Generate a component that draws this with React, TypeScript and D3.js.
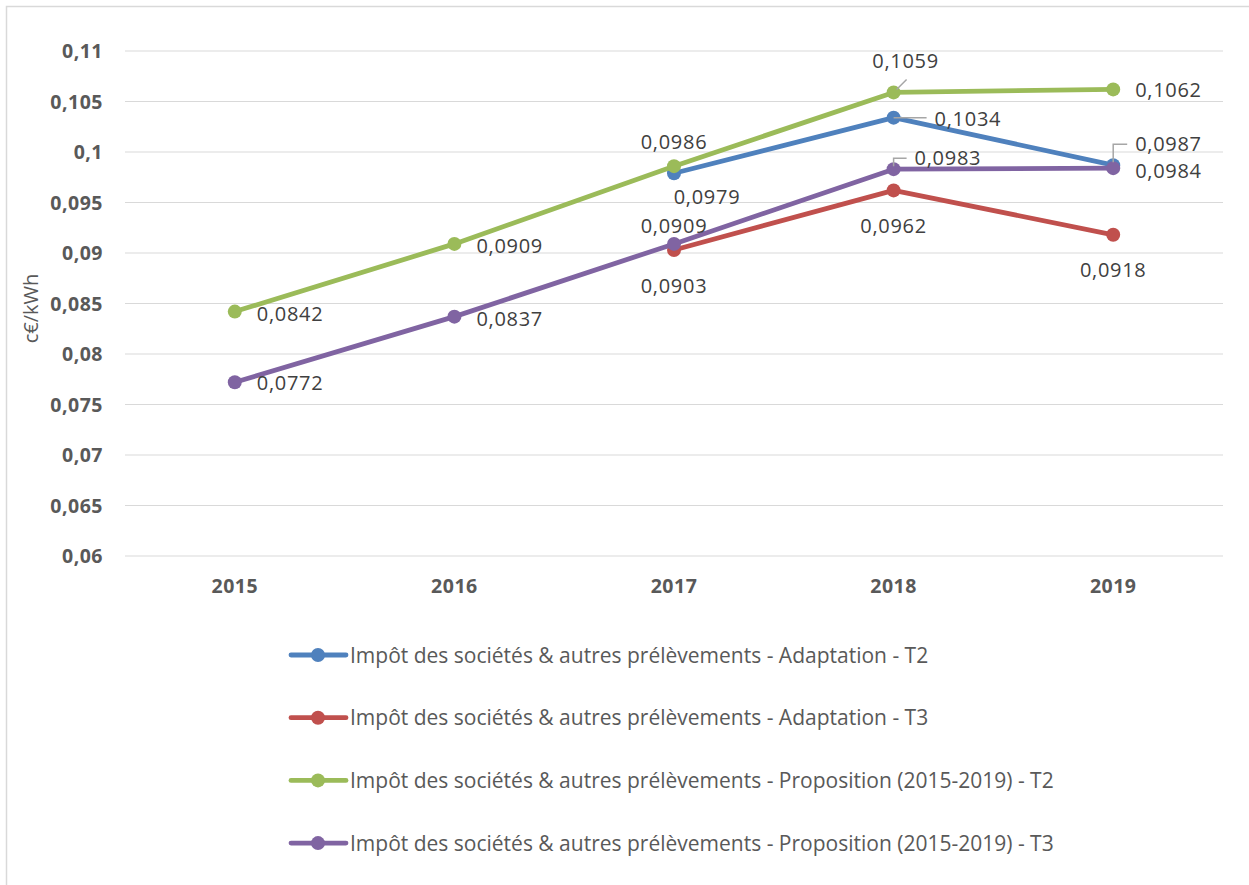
import { useMemo } from 'react'
import * as d3 from 'd3'

const WIDTH = 1249
const HEIGHT = 885

const years = ['2015', '2016', '2017', '2018', '2019']
const yTicks = [0.06, 0.065, 0.07, 0.075, 0.08, 0.085, 0.09, 0.095, 0.1, 0.105, 0.11]

// null = pas de valeur pour l'année
const adaptationT2 = [null, null, 0.0979, 0.1034, 0.0987]
const adaptationT3 = [null, null, 0.0903, 0.0962, 0.0918]
const propositionT2 = [0.0842, 0.0909, 0.0986, 0.1059, 0.1062]
const propositionT3 = [0.0772, 0.0837, 0.0909, 0.0983, 0.0984]

const seriesNames = [
  'Impôt des sociétés & autres prélèvements - Adaptation - T2',
  'Impôt des sociétés & autres prélèvements - Adaptation - T3',
  'Impôt des sociétés & autres prélèvements - Proposition (2015-2019) - T2',
  'Impôt des sociétés & autres prélèvements - Proposition (2015-2019) - T3',
]
const seriesColors = ['#4f81bd', '#c0504d', '#9bbb59', '#8064a2']

// placement des étiquettes: [dx, dy, ancre, leader?]
type Place = { dx: number; dy: number; anchor: string; leader?: string }
const R = (dy = 0): Place => ({ dx: 22, dy, anchor: 'start' })
const B = (dy = 30): Place => ({ dx: 0, dy, anchor: 'middle' })
const A = (dy = -24): Place => ({ dx: 0, dy, anchor: 'middle' })
const labelPlaces: (Place | null)[][] = [
  [null, null, { dx: 33, dy: 24, anchor: 'middle' }, { dx: 41, dy: 1, anchor: 'start', leader: 'h' }, { dx: 22, dy: -21, anchor: 'start', leader: 'ul' }],
  [null, null, B(36), B(35), B(35)],
  [R(2), R(2), A(-24), { dx: 12, dy: -32, anchor: 'middle', leader: 'd' }, R(0)],
  [R(1), R(2), A(-18), { dx: 21, dy: -11, anchor: 'start', leader: 'ul' }, R(3)],
]

const FONT = '"Open Sans", "Noto Sans", sans-serif'
const fmt = (v: number) => v.toFixed(4).replace('.', ',')
const fmtTick = (v: number) => String(+v.toFixed(3)).replace('.', ',')

export default function App() {
  const x = useMemo(() => d3.scalePoint<string>().domain(years).range([125, 1223]).padding(0.5), [])
  const y = useMemo(() => d3.scaleLinear().domain([0.06, 0.11]).range([556, 51]), [])
  const allSeries = [adaptationT2, adaptationT3, propositionT2, propositionT3]

  const line = d3
    .line<number | null>()
    .defined((d) => d !== null)
    .x((_, i) => x(years[i]) as number)
    .y((d) => y(d as number))

  return (
    <svg
      width={WIDTH}
      height={HEIGHT}
      style={{ position: 'fixed', left: 0, top: 0, background: '#fff' }}
      fontFamily={FONT}
    >
      <rect x={6.5} y={6.5} width={1260} height={900} fill="#fff" stroke="#d9d9d9" strokeWidth={1.5} />

      {yTicks.map((t) => (
        <g key={t}>
          <line x1={125} x2={1223} y1={y(t)} y2={y(t)} stroke="#d9d9d9" strokeWidth={1.2} />
          <text x={103} y={y(t)} dy="0.36em" textAnchor="end" fontSize={19.5} fontWeight="bold" fill="#595959" letterSpacing={0.5}>
            {fmtTick(t)}
          </text>
        </g>
      ))}

      {years.map((yr) => (
        <text key={yr} x={x(yr)} y={593} textAnchor="middle" fontSize={19.5} fontWeight="bold" fill="#595959" letterSpacing={0.5}>
          {yr}
        </text>
      ))}

      <text
        transform={`translate(38, ${y(0.0845)}) rotate(-90)`}
        textAnchor="middle"
        fontSize={20}
        fill="#595959"
      >
        c€/kWh
      </text>

      {allSeries.map((s, si) => (
        <g key={si}>
          <path d={line(s) || ''} fill="none" stroke={seriesColors[si]} strokeWidth={4.8} strokeLinejoin="round" />
          {s.map((v, i) =>
            v === null ? null : (
              <circle key={i} cx={x(years[i])} cy={y(v)} r={7} fill={seriesColors[si]} />
            )
          )}
        </g>
      ))}

      {allSeries.map((s, si) =>
        s.map((v, i) => {
          const p = labelPlaces[si][i]
          if (v === null || !p) return null
          const px = x(years[i]) as number
          const py = y(v)
          const tx = px + p.dx
          const ty = py + p.dy
          let leader: string | null = null
          if (p.leader === 'h') leader = `M${px},${py}H${tx - 8}`
          if (p.leader === 'ul') leader = `M${px},${py - 3}V${ty}H${tx - 8}`
          if (p.leader === 'd') leader = `M${px + 3},${py - 3}L${px + 13},${py - 13}`
          return (
            <g key={`${si}-${i}`}>
              {leader && <path d={leader} fill="none" stroke="#a6a6a6" strokeWidth={1.5} />}
              <text x={tx} y={ty} dy="0.36em" textAnchor={p.anchor} fontSize={20} fill="#404040" letterSpacing={0.7}>
                {fmt(v)}
              </text>
            </g>
          )
        })
      )}

      {seriesNames.map((name, i) => {
        const ly = 655 + i * 62.7
        return (
          <g key={name}>
            <line x1={291} x2={346} y1={ly} y2={ly} stroke={seriesColors[i]} strokeWidth={4.8} strokeLinecap="round" />
            <circle cx={318} cy={ly} r={7} fill={seriesColors[i]} />
            <text x={350} y={ly} dy="0.36em" fontSize={21} fill="#595959">
              {name}
            </text>
          </g>
        )
      })}
    </svg>
  )
}
